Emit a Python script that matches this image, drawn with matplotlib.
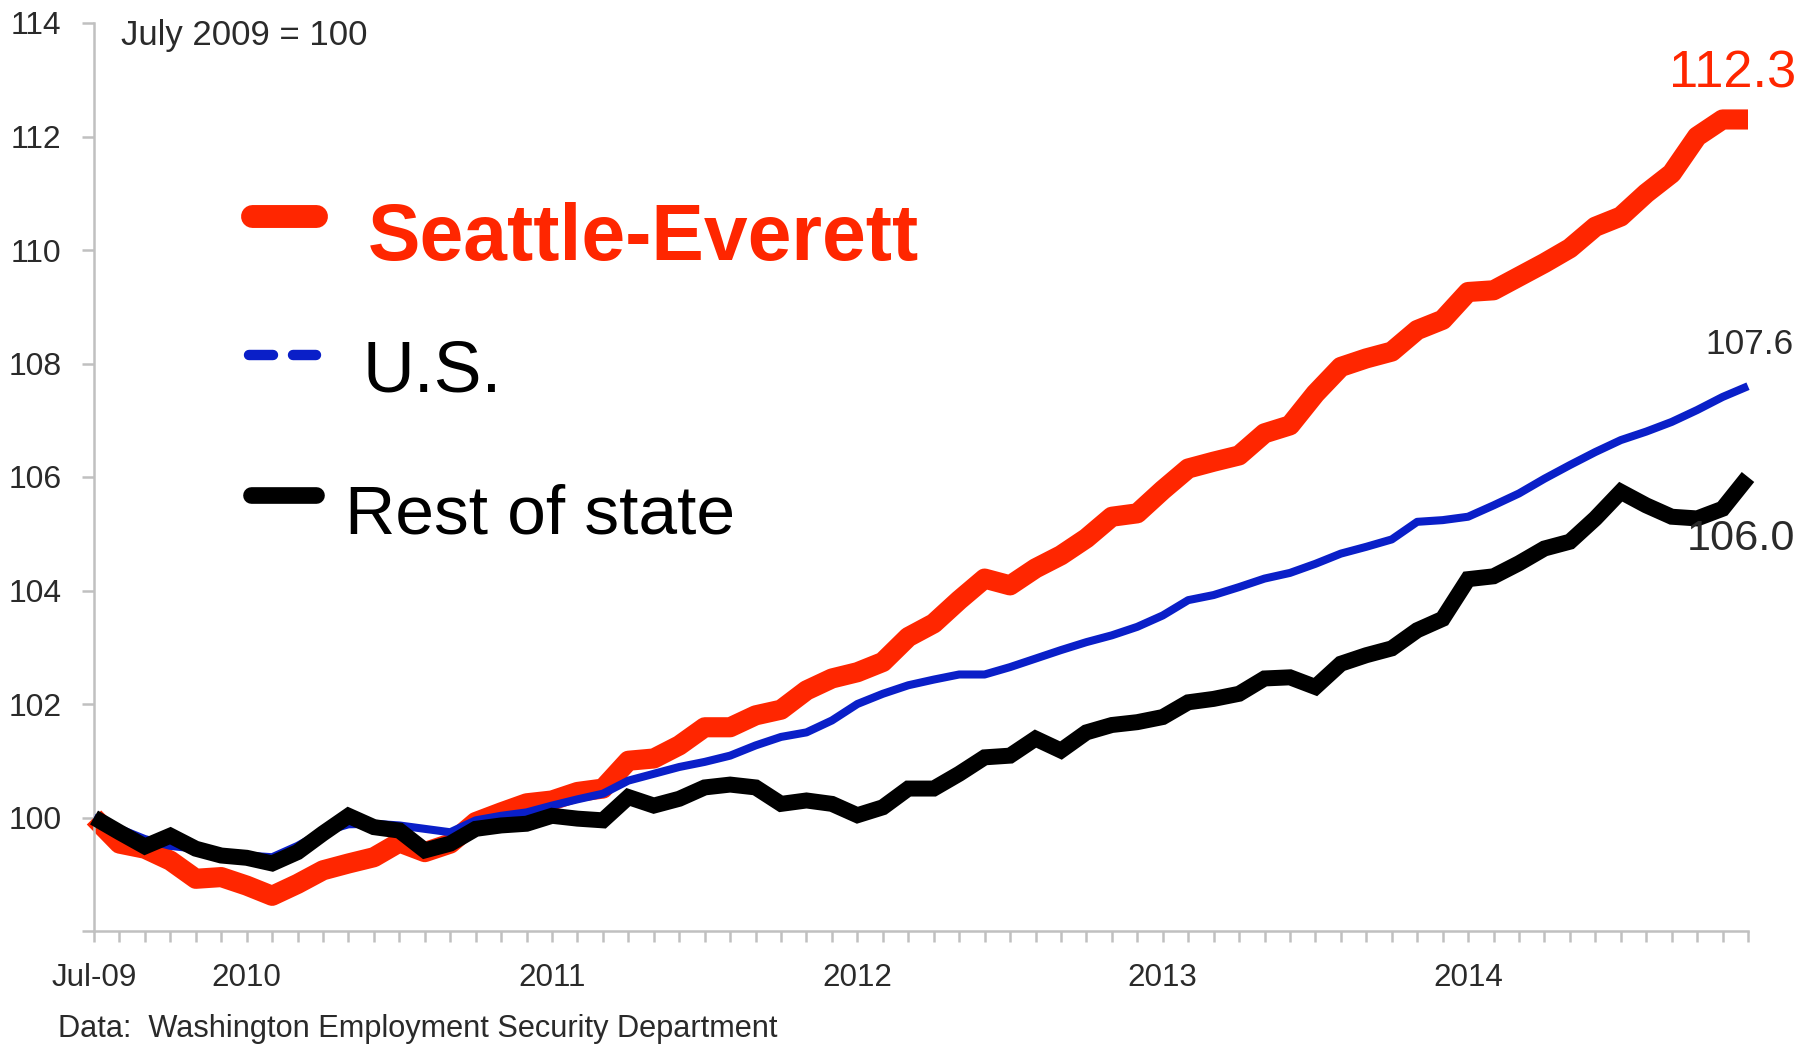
import matplotlib
matplotlib.use("Agg")
from matplotlib import pyplot as plt
from matplotlib import font_manager
from matplotlib.lines import Line2D

# monthly index, July 2009 = 100 (Jul-09 .. Dec-14)
seattle = [100.0, 99.54, 99.45, 99.24, 98.92, 98.95, 98.8, 98.62, 98.83, 99.07,
           99.19, 99.3, 99.56, 99.39, 99.54, 99.92, 100.09, 100.25, 100.3, 100.45,
           100.51, 101.0, 101.04, 101.27, 101.59, 101.59, 101.8, 101.9, 102.24, 102.45,
           102.56, 102.74, 103.18, 103.42, 103.83, 104.21, 104.09, 104.39, 104.62, 104.92,
           105.3, 105.36, 105.77, 106.15, 106.27, 106.38, 106.77, 106.91, 107.47, 107.94,
           108.09, 108.21, 108.59, 108.77, 109.26, 109.29, 109.53, 109.77, 110.03, 110.41,
           110.59, 111.0, 111.35, 112.0, 112.3, 112.3]
us = [100.0, 99.8, 99.62, 99.5, 99.45, 99.38, 99.33, 99.3, 99.5, 99.75,
      99.88, 99.89, 99.86, 99.8, 99.74, 99.95, 100.03, 100.09, 100.21, 100.32,
      100.42, 100.65, 100.77, 100.89, 100.98, 101.09, 101.27, 101.42, 101.5, 101.71,
      102.0, 102.18, 102.33, 102.43, 102.52, 102.52, 102.65, 102.8, 102.95, 103.09,
      103.21, 103.36, 103.56, 103.83, 103.92, 104.06, 104.21, 104.31, 104.47, 104.65,
      104.77, 104.9, 105.21, 105.24, 105.3, 105.5, 105.71, 105.97, 106.21, 106.44,
      106.65, 106.8, 106.97, 107.18, 107.41, 107.6]
rest = [100.0, 99.74, 99.49, 99.68, 99.45, 99.33, 99.29, 99.19, 99.39, 99.72,
        100.03, 99.83, 99.77, 99.42, 99.54, 99.8, 99.86, 99.89, 100.03, 99.98,
        99.95, 100.36, 100.21, 100.33, 100.53, 100.58, 100.53, 100.24, 100.3, 100.24,
        100.04, 100.18, 100.51, 100.51, 100.77, 101.06, 101.09, 101.39, 101.18, 101.5,
        101.63, 101.68, 101.77, 102.03, 102.09, 102.18, 102.45, 102.47, 102.3, 102.71,
        102.86, 102.98, 103.3, 103.5, 104.2, 104.25, 104.48, 104.74, 104.86, 105.27,
        105.74, 105.5, 105.3, 105.27, 105.44, 106.0]

year_ticks = [0, 6, 18, 30, 42, 54]
year_labels = ["Jul-09", "2010", "2011", "2012", "2013", "2014"]
y_ticks = [98, 100, 102, 104, 106, 108, 110, 112, 114]

RED = "#ff2600"
BLUE = "#0a1fc8"
GRAY = "#c0c0c0"
TXT = "#2a2a2a"

names = {f.name for f in font_manager.fontManager.ttflist}
if "Liberation Sans Narrow" in names:
    FONT = ["Liberation Sans Narrow", "DejaVu Sans"]
    k = 1.0
else:
    # no narrow face installed: shrink so widths match the original
    FONT = ["Liberation Sans", "DejaVu Sans"]
    k = 0.82
plt.rcParams["font.family"] = FONT

W, H = 1816, 1045
fig = plt.figure(figsize=(W / 100, H / 100), dpi=100)
ax = fig.add_axes([94 / W, 114 / H, (1748 - 94) / W, (931 - 23) / H])

x = list(range(len(seattle)))
ax.plot(x, seattle, color=RED, lw=14.5, solid_joinstyle="round",
        solid_capstyle="butt", clip_on=False, zorder=2)
ax.plot(x, us, color=BLUE, lw=5.8, solid_joinstyle="round",
        solid_capstyle="butt", clip_on=False, zorder=3)
ax.plot(x, rest, color="black", lw=11.5, solid_joinstyle="miter",
        solid_capstyle="butt", clip_on=False, zorder=4)

ax.set_xlim(0, 65)
ax.set_ylim(98, 114)

for s in ["top", "right"]:
    ax.spines[s].set_visible(False)
for s in ["left", "bottom"]:
    ax.spines[s].set_color(GRAY)
    ax.spines[s].set_linewidth(1.8)

ax.set_yticks(y_ticks)
ax.set_yticklabels([""] + [str(v) for v in y_ticks[1:]])
ax.set_xticks(x)
xl = [""] * len(x)
for i, lab in zip(year_ticks, year_labels):
    xl[i] = lab
ax.set_xticklabels(xl)
ax.tick_params(axis="y", length=8.5, width=1.8, color=GRAY, direction="out",
               pad=15, labelsize=28 * k, labelcolor=TXT)
ax.tick_params(axis="x", length=8, width=1.8, color=GRAY, direction="out",
               pad=15, labelsize=27.5 * k, labelcolor=TXT)


def fx(px):
    return px / W


def fy(py):
    return 1 - py / H


fig.text(fx(121), fy(45), "July 2009 = 100", fontsize=30.5 * k, color=TXT,
         va="baseline", ha="left")
fig.text(fx(58), fy(1037), "Data:  Washington Employment Security Department",
         fontsize=27 * k, color=TXT, va="baseline", ha="left")

# legend
fig.add_artist(Line2D([fx(252), fx(316)], [fy(216), fy(216)], color=RED,
                      lw=16.5, solid_capstyle="round"))
fig.text(fx(368), fy(260), "Seattle-Everett", fontsize=69 * k, color=RED,
         fontweight="bold", va="baseline", ha="left")
fig.add_artist(Line2D([fx(249), fx(273)], [fy(355), fy(355)], color=BLUE,
                      lw=7.5, solid_capstyle="round"))
fig.add_artist(Line2D([fx(293), fx(316)], [fy(355), fy(355)], color=BLUE,
                      lw=7.5, solid_capstyle="round"))
fig.text(fx(362), fy(392), "U.S.", fontsize=63 * k, color="black",
         va="baseline", ha="left")
fig.add_artist(Line2D([fx(251), fx(316)], [fy(495), fy(495)], color="black",
                      lw=12, solid_capstyle="round"))
fig.text(fx(345), fy(533), "Rest of state", fontsize=61 * k, color="black",
         va="baseline", ha="left")

# end values
fig.text(fx(1796), fy(88), "112.3", fontsize=46 * k, color=RED,
         va="baseline", ha="right")
fig.text(fx(1793), fy(354), "107.6", fontsize=31 * k, color=TXT,
         va="baseline", ha="right")
fig.text(fx(1795), fy(550), "106.0", fontsize=38 * k, color=TXT,
         va="baseline", ha="right")

fig.savefig("out.png", dpi=100, facecolor="white")
